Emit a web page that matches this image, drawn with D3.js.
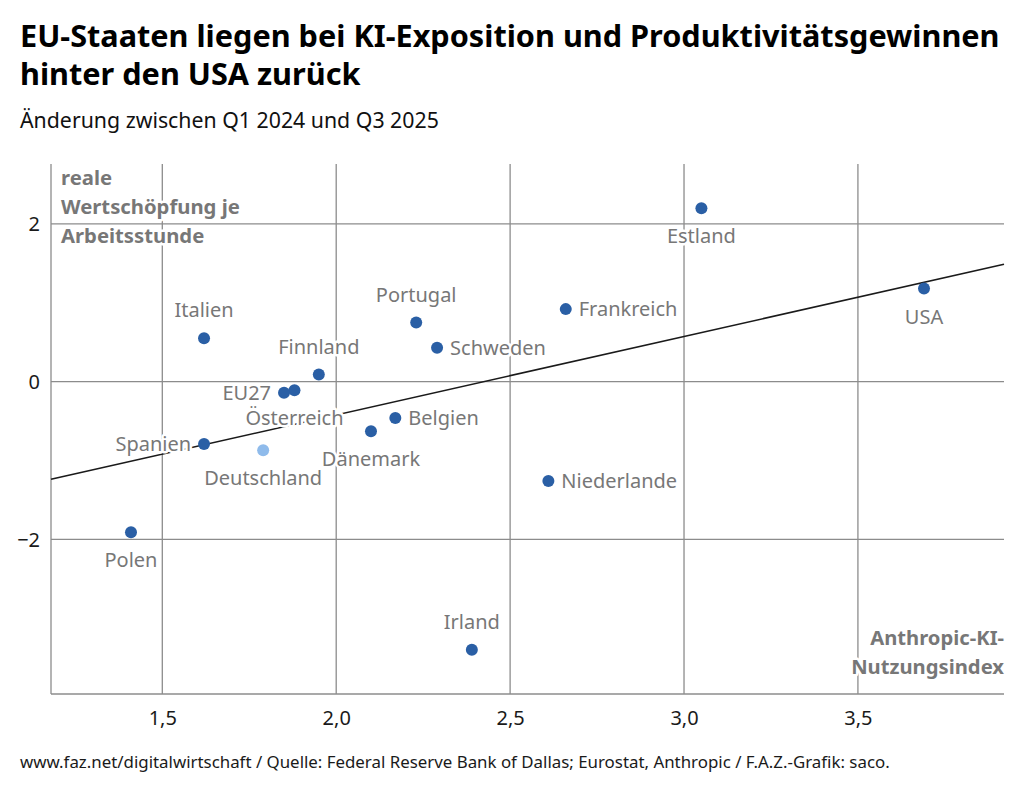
<!DOCTYPE html>
<html><head><meta charset="utf-8">
<script src="https://cdn.jsdelivr.net/npm/d3@7/dist/d3.min.js"></script>
<style>
html,body{margin:0;padding:0;background:#fff;}
svg{display:block;font-family:"Source Sans Pro","Noto Sans",sans-serif;}
</style></head>
<body>
<svg id="chart" width="1024" height="793"></svg>
<script>
// ---- data ----
const countries = ["Estland","USA","Frankreich","Portugal","Schweden","Italien","Finnland","EU27","Österreich","Belgien","Dänemark","Spanien","Deutschland","Niederlande","Polen","Irland"];
const aiIndex = [3.05,3.69,2.66,2.23,2.29,1.62,1.95,1.85,1.88,2.17,2.10,1.62,1.79,2.61,1.41,2.39];
const productivity = [2.20,1.18,0.92,0.75,0.43,0.55,0.09,-0.14,-0.11,-0.46,-0.63,-0.79,-0.87,-1.26,-1.91,-3.40];
const trendX = [1.18,3.92];
const trendY = [-1.237,1.488];
const xTicks = [1.5,2.0,2.5,3.0,3.5];
const yTicks = [-2,0,2];
const titleLines = ["EU-Staaten liegen bei KI-Exposition und Produktivitätsgewinnen","hinter den USA zurück"];
const subtitle = "Änderung zwischen Q1 2024 und Q3 2025";
const yTitle = ["reale","Wertschöpfung je","Arbeitsstunde"];
const xTitle = ["Anthropic-KI-","Nutzungsindex"];
const footer = "www.faz.net/digitalwirtschaft / Quelle: Federal Reserve Bank of Dallas; Eurostat, Anthropic / F.A.Z.-Grafik: saco.";

// ---- layout / style config ----
const labelPlace = {Estland:"below",USA:"below",Frankreich:"right",Portugal:"above",Schweden:"right",Italien:"above",Finnland:"above",EU27:"left","Österreich":"below",Belgien:"right","Dänemark":"below",Spanien:"left",Deutschland:"below",Niederlande:"right",Polen:"below",Irland:"above"};
const highlight = "Deutschland";
const plot = {left:51,right:1004,top:164,bottom:694};

const svg = d3.select("#chart");
const loc = d3.formatLocale({decimal:",",thousands:".",grouping:[3],currency:["","€"],minus:"\u2212"});
const fx = loc.format(".1f"), fy = loc.format("d");

const x = d3.scaleLinear().domain([1.18,3.92]).range([plot.left,plot.right]);
const y = d3.scaleLinear().domain([-3.96,2.76]).range([plot.bottom,plot.top]);

function fit(sel, target, base){
  sel.attr("font-size", base);
  let w = 0;
  sel.each(function(){ w = Math.max(w, this.getComputedTextLength()); });
  const s = base*target/w;
  sel.attr("font-size", s);
  return s;
}

// measure label font size
const probe = svg.append("text").text("Deutschland").attr("font-size",20);
const lblSize = 20*118/probe.node().getComputedTextLength();
probe.remove();

// titles
const tg = svg.append("g");
const t1 = tg.append("text").attr("x",20).attr("y",47).attr("font-weight",700).attr("fill","#000").text(titleLines[0]);
const ts = fit(t1, 980, 30);
tg.append("text").attr("x",20).attr("y",85).attr("font-weight",700).attr("fill","#000").attr("font-size",ts).text(titleLines[1]);
const st = tg.append("text").attr("x",20).attr("y",128).attr("fill","#111").text(subtitle);
fit(st, 419, 21);

// grid
const grid = svg.append("g").attr("stroke","#8c8c8c").attr("stroke-width",1.3).attr("fill","none");
grid.selectAll("line.v").data(xTicks).join("line").attr("class","v")
  .attr("x1",d=>x(d)).attr("x2",d=>x(d)).attr("y1",plot.top).attr("y2",plot.bottom);
grid.selectAll("line.h").data(yTicks).join("line").attr("class","h")
  .attr("x1",plot.left).attr("x2",plot.right).attr("y1",d=>y(d)).attr("y2",d=>y(d));
// axes lines
const xAxis = d3.axisBottom(x).tickValues(xTicks).tickFormat(fx).tickSize(0).tickPadding(12);
const yAxis = d3.axisLeft(y).tickValues(yTicks).tickFormat(fy).tickSize(0).tickPadding(11);
const gx = svg.append("g").attr("transform",`translate(0,${plot.bottom})`).call(xAxis);
const gy = svg.append("g").attr("transform",`translate(${plot.left},0)`).call(yAxis);
[gx,gy].forEach(g=>{
  g.select(".domain").attr("stroke","#8c8c8c").attr("stroke-width",1.3);
  g.selectAll(".tick text").attr("font-family","'Source Sans Pro','Noto Sans',sans-serif")
   .attr("font-size",lblSize).attr("fill","#1a1a1a");
});
gx.select(".domain").attr("d",`M${plot.left},0H${plot.right}`);
gy.select(".domain").attr("d",`M0,${plot.top}V${plot.bottom}`);
gx.selectAll(".tick text").attr("dy","0.95em");
gy.selectAll(".tick text").attr("dy","0.35em");

// axis titles (with halo)
const halo = s => s.attr("stroke","#fff").attr("stroke-width",5).attr("stroke-linejoin","round").attr("paint-order","stroke");
const yt = svg.append("g").selectAll("text").data(yTitle).join("text")
  .attr("x",61).attr("y",(d,i)=>185+i*29.2).attr("font-weight",700).attr("fill","#777").text(d=>d).call(halo);
fit(yt, 179, 19);
const xt = svg.append("g").selectAll("text").data(xTitle).join("text")
  .attr("x",plot.right).attr("y",(d,i)=>645+i*29.3).attr("text-anchor","end").attr("font-weight",700).attr("fill","#777").text(d=>d).call(halo);
fit(xt, 153, 19);

// trend line
svg.append("line").attr("x1",x(trendX[0])).attr("y1",y(trendY[0])).attr("x2",x(trendX[1])).attr("y2",y(trendY[1]))
  .attr("stroke","#1a1a1a").attr("stroke-width",1.6);

// data
const pts = countries.map((c,i)=>({name:c, xv:aiIndex[i], yv:productivity[i]}));

// labels
const off = 28, side = 13;
svg.append("g").selectAll("text").data(pts).join("text")
  .attr("font-size",lblSize).attr("fill","#777")
  .attr("x",d=>{const p=labelPlace[d.name]; return x(d.xv)+(p==="right"?side:p==="left"?-side:0);})
  .attr("y",d=>{const p=labelPlace[d.name]; return y(d.yv)+(p==="above"?-off:p==="below"?off:0);})
  .attr("dy","0.35em")
  .attr("text-anchor",d=>{const p=labelPlace[d.name]; return p==="right"?"start":p==="left"?"end":"middle";})
  .text(d=>d.name).call(halo);

// dots
svg.append("g").selectAll("circle").data(pts).join("circle")
  .attr("cx",d=>x(d.xv)).attr("cy",d=>y(d.yv)).attr("r",6)
  .attr("fill",d=>d.name===highlight?"#8fbbeb":"#2a5fa5");

// footer
const ft = svg.append("text").attr("x",20).attr("y",768).attr("fill","#1a1a1a").text(footer);
fit(ft, 870, 17);
</script>
</body></html>
